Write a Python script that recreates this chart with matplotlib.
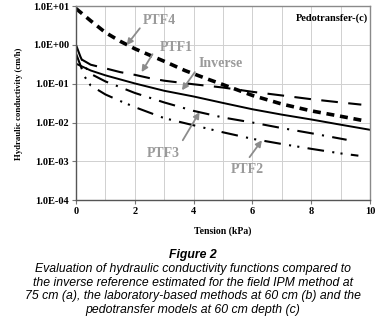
import numpy as np
import matplotlib
matplotlib.use('Agg')
import matplotlib.pyplot as plt
from matplotlib.ticker import FuncFormatter, MultipleLocator

# データ
t_inverse = [0, 0.5, 1, 2, 3, 4, 5, 6, 7, 8, 9, 10]
k_inverse = [0.33, 0.22, 0.165, 0.102, 0.066, 0.047, 0.032, 0.022, 0.016, 0.012, 0.0088, 0.0065]

t_ptf1 = [0.2, 0.5, 1, 1.5, 2, 2.5, 3, 4, 5, 6, 7, 8, 9, 9.7]
k_ptf1 = [0.42, 0.31, 0.25, 0.2, 0.17, 0.14, 0.12, 0.097, 0.08, 0.062, 0.05, 0.04, 0.033, 0.029]

t_ptf2 = [0, 0.15, 0.3, 0.5, 1, 1.5, 2, 3, 4, 5, 6, 7, 8, 9, 9.6]
k_ptf2 = [0.6, 0.3, 0.15, 0.09, 0.053, 0.036, 0.025, 0.013, 0.0085, 0.0056, 0.0038, 0.0028, 0.0021, 0.0016, 0.0014]

t_ptf3 = [0, 0.15, 0.3, 0.5, 1, 2, 3, 4, 5, 6, 7, 8, 9.2]
k_ptf3 = [1.0, 0.5, 0.28, 0.18, 0.115, 0.058, 0.033, 0.02, 0.0135, 0.01, 0.0072, 0.0053, 0.0036]

t_ptf4 = [0, 0.5, 1, 1.5, 2, 2.5, 3, 3.7, 4.5, 5, 6, 7, 8, 9, 9.7]
k_ptf4 = [8.7, 4.2, 2.1, 1.25, 0.8, 0.55, 0.38, 0.22, 0.13, 0.095, 0.05, 0.03, 0.02, 0.0145, 0.0115]

caption_title = 'Figure 2'
caption_lines = ['Evaluation of hydraulic conductivity functions compared to',
                 'the inverse reference estimated for the field IPM method at',
                 '75 cm (a), the laboratory-based methods at 60 cm (b) and the',
                 'pedotransfer models at 60 cm depth (c)']

serif = 'Liberation Serif'
sans = 'Liberation Sans'
label_gray = '#9a9a9a'

fig = plt.figure(figsize=(3.81, 3.27), dpi=100)
ax = fig.add_axes([0.1995, 0.388, 0.772, 0.593])

# 曲線
ax.plot(t_ptf4, k_ptf4, color='black', lw=2.6, linestyle=(0, (2.2, 1.6)))
ax.plot(t_ptf1, k_ptf1, color='black', lw=1.5, linestyle=(0, (8, 5)))
ax.plot(t_inverse, k_inverse, color='black', lw=1.4, linestyle='-')
ax.plot(t_ptf3, k_ptf3, color='black', lw=1.5, linestyle=(0, (8, 4, 1, 4)))
ax.plot(t_ptf2, k_ptf2, color='black', lw=1.5, linestyle=(0, (8, 4, 1, 3, 1, 4)))

ax.set_yscale('log')
ax.set_ylim(1e-4, 1e1)
ax.set_xlim(0, 10)
ax.xaxis.set_major_locator(MultipleLocator(2))
ax.xaxis.set_minor_locator(MultipleLocator(1))
ax.yaxis.set_major_formatter(FuncFormatter(lambda v, p: '{:.1E}'.format(v)))
ax.yaxis.set_minor_locator(matplotlib.ticker.NullLocator())
ax.grid(which='both', axis='x', color='#d0d0d0', lw=0.7)
ax.grid(which='major', axis='y', color='#d0d0d0', lw=0.7)
ax.tick_params(which='major', length=3, width=0.8, color='#777777', labelsize=7.5, pad=2)
ax.tick_params(which='minor', length=0)
for lab in ax.get_xticklabels() + ax.get_yticklabels():
    lab.set_fontfamily(serif)
    lab.set_fontweight('bold')
for s in ax.spines.values():
    s.set_color('#8a8a8a')
    s.set_linewidth(1.0)
ax.spines['left'].set_color('#555555')
ax.spines['bottom'].set_color('#555555')

ax.set_xlabel('Tension (kPa)', fontsize=7, fontweight='bold', family=serif)
ax.xaxis.set_label_coords(0.5, -0.135)
ax.set_ylabel('Hydraulic conductivity (cm/h)', fontsize=6.3, fontweight='bold', family=serif)
ax.yaxis.set_label_coords(-0.18, 0.497)

ax.text(0.993, 0.94, 'Pedotransfer-(c)', transform=ax.transAxes, ha='right', va='center',
        fontsize=7.5, fontweight='bold', family=serif)

# ラベルと矢印
arrow = dict(arrowstyle='-|>', color='#8c8c8c', lw=1.3, mutation_scale=9, shrinkA=0, shrinkB=0)
ax.text(2.85, 4.36, 'PTF4', fontsize=10, fontweight='bold', family=serif, color=label_gray, ha='center', va='center')
ax.annotate('', xy=(1.72, 0.99), xytext=(2.17, 2.7), arrowprops=arrow)
ax.text(3.4, 0.877, 'PTF1', fontsize=10, fontweight='bold', family=serif, color=label_gray, ha='center', va='center')
ax.annotate('', xy=(2.23, 0.2), xytext=(2.6, 0.58), arrowprops=arrow)
ax.text(4.92, 0.34, 'Inverse', fontsize=10, fontweight='bold', family=serif, color=label_gray, ha='center', va='center')
ax.annotate('', xy=(3.6, 0.068), xytext=(4.04, 0.2), arrowprops=arrow)
ax.text(2.98, 0.00163, 'PTF3', fontsize=10, fontweight='bold', family=serif, color=label_gray, ha='center', va='center')
ax.annotate('', xy=(4.2, 0.0186), xytext=(3.63, 0.0035), arrowprops=arrow)
ax.text(5.84, 0.00063, 'PTF2', fontsize=10, fontweight='bold', family=serif, color=label_gray, ha='center', va='center')
ax.annotate('', xy=(6.32, 0.0035), xytext=(5.9, 0.00128), arrowprops=arrow)

# キャプション
fig.text(193 / 381, 1 - 255 / 327, caption_title, ha='center', va='center', fontsize=8.8,
         fontweight='bold', style='italic', family=sans)
for i, line in enumerate(caption_lines):
    fig.text(193 / 381, 1 - (269 + 13.5 * i) / 327, line, ha='center', va='center',
             fontsize=8.8, style='italic', family=sans)

fig.savefig('out.png', dpi=100)
